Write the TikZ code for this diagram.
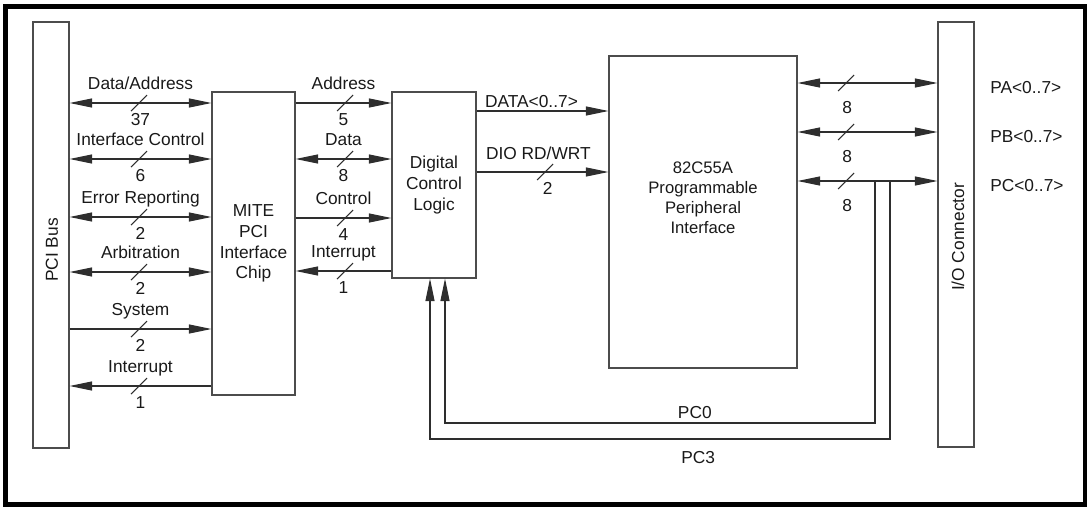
\documentclass[tikz,border=0pt]{standalone}
\usepackage{fontspec}
\setmainfont{Liberation Sans}
\usetikzlibrary{arrows.meta}
\definecolor{ln}{gray}{0.18}
\definecolor{bx}{gray}{0.3}
\newcommand\busslash[2]{\draw[conn] (#1-8,#2+8) -- (#1+8,#2-8);}
\begin{document}
\begin{tikzpicture}[x=0.75pt,y=-0.75pt,
  >={Triangle[length=17pt,width=6.8pt]},
  every node/.style={font=\fontsize{13}{15.5}\selectfont, inner sep=0pt, text=black!90},
  box/.style={draw=bx, line width=0.8pt, inner sep=0pt, align=center},
  conn/.style={draw=ln, line width=0.8pt},
  lab/.style={midway, anchor=base, yshift=10.5pt},
  num/.style={midway, anchor=base, yshift=-16.5pt},
  rnum/.style={pos=0.355, anchor=base, yshift=-22.5pt},
  plab/.style={anchor=base west}]
\useasboundingbox (0,0) rectangle (1088,507);
\draw[line width=3.6pt] (5.5,6.5) rectangle (1085,504.5);

% boxes
\node[box, minimum width=27pt, minimum height=319.5pt] (pci) at (51,235) {};
\node[rotate=90] (pcitext) at (52,250) {PCI Bus};
\node[box, minimum width=62.25pt, minimum height=227.25pt] (mite) at (253.5,243.5) {MITE\\PCI\\Interface\\Chip};
\node[box, minimum width=63pt, minimum height=139.5pt] (dcl) at (434,185) {Digital\\Control\\Logic};
\node[box, minimum width=141pt, minimum height=234pt] (ppi) at (703,212) {};
\node[font=\fontsize{12.5}{15}\selectfont, align=center] (ppitext) at (703,198) {82C55A\\Programmable\\Peripheral\\Interface};
\node[box, minimum width=27pt, minimum height=318.75pt] (io) at (956,234.5) {};
\node[rotate=90] (iotext) at (958,237) {I/O Connector};

% PCI bus <-> MITE
\draw[conn,<->] (pci.east |- 0,103) -- node[lab] (la1) {Data/Address} node[num] (na1) {37} (mite.west |- 0,103);
\draw[conn,<->] (pci.east |- 0,159) -- node[lab] (la2) {Interface Control} node[num] (na2) {6} (mite.west |- 0,159);
\draw[conn,<->] (pci.east |- 0,217) -- node[lab] (la3) {Error Reporting} node[num] (na3) {2} (mite.west |- 0,217);
\draw[conn,<->] (pci.east |- 0,272) -- node[lab] (la4) {Arbitration} node[num] (na4) {2} (mite.west |- 0,272);
\draw[conn,->] (pci.east |- 0,329) -- node[lab] (la5) {System} node[num] (na5) {2} (mite.west |- 0,329);
\draw[conn,<-] (pci.east |- 0,386) -- node[lab] (la6) {Interrupt} node[num] (na6) {1} (mite.west |- 0,386);
\busslash{139}{103}
\busslash{139}{159}
\busslash{139}{217}
\busslash{139}{272}
\busslash{139}{329}
\busslash{139}{386}

% MITE <-> DCL
\draw[conn,->] (mite.east |- 0,103) -- node[lab] (lb1) {Address} node[num] (nb1) {5} (dcl.west |- 0,103);
\draw[conn,<->] (mite.east |- 0,159) -- node[lab] (lb2) {Data} node[num] (nb2) {8} (dcl.west |- 0,159);
\draw[conn,->] (mite.east |- 0,218) -- node[lab] (lb3) {Control} node[num] (nb3) {4} (dcl.west |- 0,218);
\draw[conn,<-] (mite.east |- 0,271) -- node[lab] (lb4) {Interrupt} node[num] (nb4) {1} (dcl.west |- 0,271);
\busslash{345}{103}
\busslash{345}{159}
\busslash{345}{218}
\busslash{345}{271}

% DCL -> 82C55A
\draw[conn,->] (dcl.east |- 0,111) -- node[pos=0, anchor=base west, xshift=6pt, yshift=3pt] (lc1) {DATA<0..7>} (ppi.west |- 0,111);
\draw[conn,->] (dcl.east |- 0,172) -- node[pos=0, anchor=base west, xshift=6.75pt, yshift=9.75pt] (lc2) {DIO RD/WRT} node[pos=0.54, anchor=base, yshift=-16.5pt] (nc2) {2} (ppi.west |- 0,172);
\busslash{545}{172}

% 82C55A <-> I/O connector
\draw[conn,<->] (ppi.east |- 0,83) -- node[rnum] (nd1) {8} (io.west |- 0,83);
\draw[conn,<->] (ppi.east |- 0,132) -- node[rnum] (nd2) {8} (io.west |- 0,132);
\draw[conn,<->] (ppi.east |- 0,181) -- node[rnum] (nd3) {8} (io.west |- 0,181);
\busslash{846}{83}
\busslash{846}{132}
\busslash{846}{181}
\node[plab] (pa) at (990,93) {PA<0..7>};
\node[plab] (pb) at (990,142) {PB<0..7>};
\node[plab] (pc) at (990,191) {PC<0..7>};

% PC0 / PC3 feedback
\coordinate (pc0) at (875,181);
\coordinate (pc3) at (890,181);
\draw[conn,->] (pc0) -- (875,423) -- node[pos=0.419, anchor=base, yshift=3.75pt] (lpc0) {PC0} (445,423) -- (dcl.south -| 445,0);
\draw[conn,->] (pc3) -- (890,439) -- node[pos=0.417, anchor=base, yshift=-18pt] (lpc3) {PC3} (430,439) -- (dcl.south -| 430,0);
\end{tikzpicture}
\end{document}
